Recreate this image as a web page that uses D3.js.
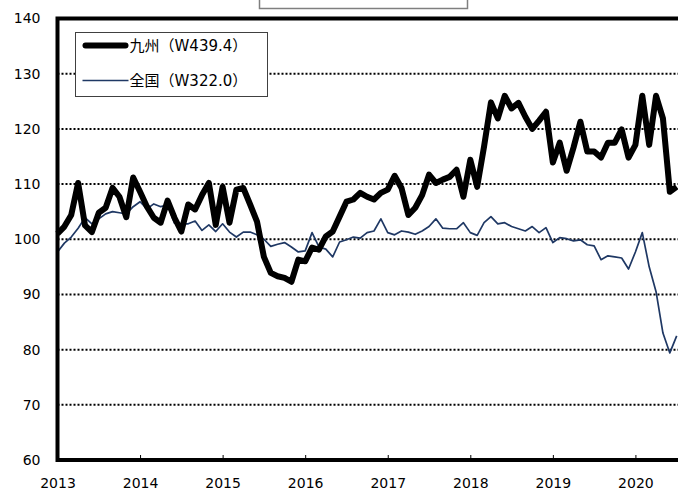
<!DOCTYPE html>
<html>
<head>
<meta charset="utf-8">
<script src="https://cdn.jsdelivr.net/npm/d3@7"></script>
<style>
  body { margin: 0; background: #fff; }
  svg { display: block; font-family: "DejaVu Sans", "Noto Sans CJK JP", sans-serif; }
</style>
</head>
<body>
<svg id="chart" width="678" height="493"></svg>
<script>
// monthly index, Jan 2013 .. Jul 2020
var yearLabels = ["2013", "2014", "2015", "2016", "2017", "2018", "2019", "2020"];
var yTicks = [60, 70, 80, 90, 100, 110, 120, 130, 140];

var kyushu = [
  101, 102.3, 104.4, 110.2, 102.5, 101.3, 104.8, 105.7, 109.3, 107.7, 104, 111.2,
  108.6, 105.9, 103.9, 103, 107, 103.9, 101.4, 106.3, 105.4, 108, 110.2, 102.6,
  109.5, 103, 109, 109.3, 106.3, 103.2, 96.8, 93.9, 93.3, 93, 92.3, 96.3,
  96, 98.5, 98.1, 100.5, 101.4, 104.1, 106.8, 107.2, 108.4, 107.7, 107.2, 108.4,
  109, 111.5, 109.3, 104.4, 105.7, 108, 111.7, 110.2, 110.8, 111.3, 112.6, 107.7,
  114.4, 109.5, 116.8, 124.8, 121.9, 126, 123.7, 124.7, 122.2, 120, 121.5, 123.1,
  113.9, 117.5, 112.4, 116.6, 121.3, 115.9, 115.9, 114.8, 117.5, 117.5, 119.9, 114.8,
  117.1, 126, 117.1, 126, 121.9, 108.6, 109.5
];

var zenkoku = [
  97.7, 99.3, 100.4, 102, 103.9, 102.8, 103.7, 104.6, 105, 104.8, 104.6, 105.9,
  106.8, 105.5, 106.4, 105.9, 106.2, 102.9, 102.8, 102.8, 103.3, 101.6, 102.6, 101.4,
  102.8, 101.3, 100.4, 101.3, 101.3, 100.8, 100, 98.7, 99.1, 99.4, 98.6, 97.7,
  97.9, 101.2, 98.6, 98.2, 96.8, 99.5, 99.9, 100.4, 100.2, 101.2, 101.5, 103.7,
  101.2, 100.8, 101.5, 101.3, 100.9, 101.5, 102.3, 103.7, 102, 101.9, 101.9, 103,
  101.2, 100.7, 103, 104.1, 102.8, 103, 102.3, 101.9, 101.5, 102.3, 101.2, 102.1,
  99.4, 100.3, 100.1, 99.7, 99.9, 99, 98.8, 96.3, 97, 96.8, 96.6, 94.6,
  97.7, 101.2, 95, 90.5, 83, 79.4, 82.5
];

var series = [
  { name: "九州（W439.4）", values: kyushu, color: "#000000", width: 6 },
  { name: "全国（W322.0）", values: zenkoku, color: "#1f3864", width: 1.7 }
];

var svg = d3.select("#chart");

// plot runs past the right edge of the window, as in the reference
var x = d3.scaleLinear().domain([0, 93]).range([57.5, 57.5 + 93 * 6.88]);
var y = d3.scaleLinear().domain([60, 140]).range([460, 18.5]);

// title box, cut off at top
svg.append("rect")
  .attr("x", 259.5).attr("y", -20)
  .attr("width", 208).attr("height", 28.5)
  .attr("fill", "#fff")
  .attr("stroke", "#7f7f7f")
  .attr("stroke-width", 1.5);

// dotted gridlines
svg.append("g")
  .selectAll("line")
  .data(yTicks.filter(function(d) { return d > 60 && d < 140; }))
  .enter().append("line")
  .attr("x1", x(0)).attr("x2", x(93))
  .attr("y1", function(d) { return y(d); })
  .attr("y2", function(d) { return y(d); })
  .attr("stroke", "#000")
  .attr("stroke-width", 2)
  .attr("stroke-dasharray", "2,2");

// y axis labels
var yAxis = d3.axisLeft(y).tickValues(yTicks).tickSize(0).tickPadding(17);
svg.append("g")
  .attr("transform", "translate(" + x(0) + ",0)")
  .call(yAxis)
  .call(function(g) { g.select(".domain").remove(); })
  .selectAll("text")
  .attr("font-size", 14)
  .attr("font-family", "DejaVu Sans")
  .attr("fill", "#000");

// x axis with small inward ticks
var xAxis = d3.axisBottom(x)
  .tickValues(yearLabels.map(function(d, i) { return i * 12; }))
  .tickFormat(function(d, i) { return yearLabels[i]; })
  .tickSizeInner(-5).tickSizeOuter(0).tickPadding(18);
var gx = svg.append("g")
  .attr("transform", "translate(0," + y(60) + ")")
  .call(xAxis);
gx.select(".domain").remove();
gx.selectAll(".tick line").attr("stroke", "#000").attr("stroke-width", 1);
gx.selectAll("text")
  .attr("font-size", 14)
  .attr("font-family", "DejaVu Sans")
  .attr("fill", "#000");

// series lines
var line = d3.line()
  .x(function(d, i) { return x(i); })
  .y(function(d) { return y(d); });

svg.append("g")
  .selectAll("path")
  .data(series.slice().reverse())
  .enter().append("path")
  .attr("d", function(d) { return line(d.values); })
  .attr("fill", "none")
  .attr("stroke", function(d) { return d.color; })
  .attr("stroke-width", function(d) { return d.width; })
  .attr("stroke-linejoin", "round");

// frame: left, top, bottom
svg.append("path")
  .attr("d", "M" + x(93) + "," + y(140) + "H" + x(0) + "V" + y(60) + "H" + x(93))
  .attr("fill", "none")
  .attr("stroke", "#000")
  .attr("stroke-width", 4);

// legend
var legend = svg.append("g").attr("transform", "translate(75.5,32.5)");
legend.append("rect")
  .attr("width", 192).attr("height", 64)
  .attr("fill", "#fff")
  .attr("stroke", "#404040")
  .attr("stroke-width", 1);

var item = legend.selectAll(".item")
  .data(series)
  .enter().append("g")
  .attr("class", "item")
  .attr("transform", function(d, i) { return "translate(0," + (13 + i * 35) + ")"; });

item.append("line")
  .attr("x1", function(d, i) { return i === 0 ? 10 : 7; })
  .attr("x2", function(d, i) { return i === 0 ? 50 : 53; })
  .attr("stroke", function(d) { return d.color; })
  .attr("stroke-width", function(d) { return d.width; })
  .attr("stroke-linecap", function(d, i) { return i === 0 ? "round" : "butt"; });

item.append("text")
  .attr("x", 54)
  .attr("dy", "0.36em")
  .attr("font-size", 15)
  .attr("font-family", "DejaVu Sans, Noto Sans CJK JP")
  .text(function(d) { return d.name; });
</script>
</body>
</html>
